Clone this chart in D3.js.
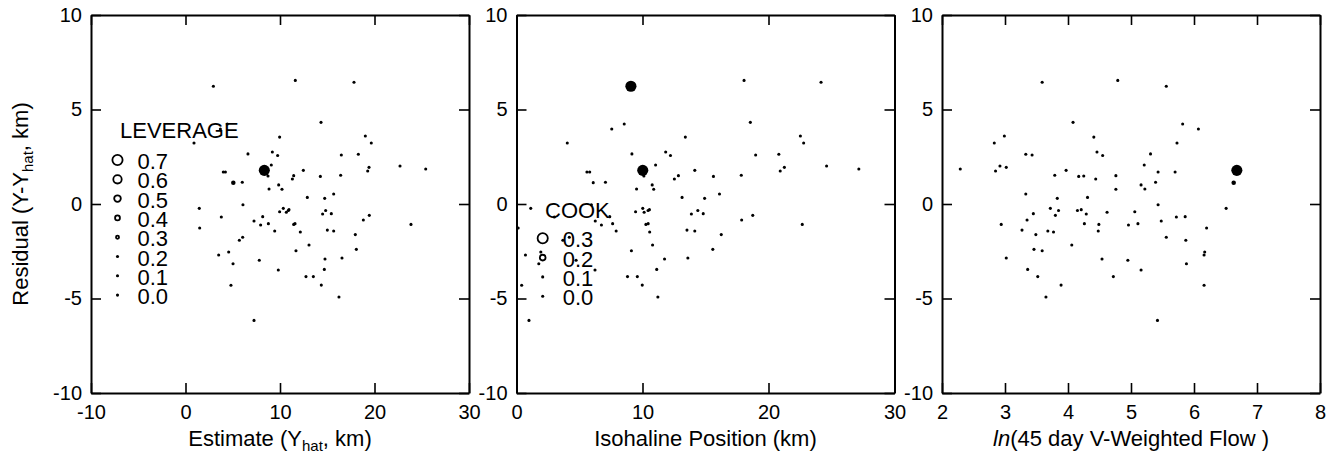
<!DOCTYPE html>
<html>
<head>
<meta charset="utf-8">
<script src="https://cdn.jsdelivr.net/npm/d3@7"></script>
<style>
  body { margin: 0; background: #fff; }
  svg { display: block; font-family: 'Liberation Sans', Arial, sans-serif; }
</style>
</head>
<body>
<div id="chart"></div>
<script>
const estimate = [2.95, 11.62, 17.83, 14.34, 4.42, 3.69, 9.96, 19.03, 0.90, 19.66,
  6.61, 9.19, 9.75, 16.49, 18.29, 9.08, 8.34, 4.00, 4.22, 12.47,
  19.42, 19.28, 22.70, 25.42, 8.73, 11.45, 11.31, 14.27, 16.42, 5.06,
  6.01, 9.86, 8.84, 10.21, 15.68, 12.89, 14.73, 6.08, 1.46, 10.35,
  10.95, 10.88, 14.83, 9.96, 10.67, 15.43, 14.51, 19.45, 8.17, 3.79,
  18.82, 7.25, 8.77, 11.59, 11.45, 23.86, 7.95, 1.50, 15.01, 9.44,
  15.68, 12.15, 17.97, 6.05, 5.70, 13.07, 18.08, 11.69, 4.57, 3.51,
  16.56, 14.76, 7.81, 5.03, 14.69, 9.82, 12.75, 13.53, 14.37, 4.81,
  16.24, 7.25]
const residual = [6.23, 6.54, 6.44, 4.32, 4.23, 3.97, 3.54, 3.60, 3.23, 3.23,
  2.65, 2.75, 2.57, 2.59, 2.63, 2.06, 1.78, 1.69, 1.69, 1.78,
  1.94, 1.75, 2.01, 1.85, 1.48, 1.50, 1.32, 1.46, 1.52, 1.13,
  1.15, 1.01, 0.79, 0.78, 0.53, 0.35, 0.30, -0.04, -0.23, -0.23,
  -0.30, -0.34, -0.34, -0.41, -0.44, -0.51, -0.53, -0.60, -0.67, -0.69,
  -0.85, -0.90, -1.04, -1.04, -1.08, -1.08, -1.11, -1.27, -1.38, -1.43,
  -1.43, -1.48, -1.62, -1.76, -1.92, -2.17, -2.40, -2.47, -2.54, -2.70,
  -2.86, -2.91, -2.98, -3.16, -3.46, -3.49, -3.84, -3.84, -4.29, -4.30,
  -4.92, -6.16]
const isohaline = [9.08, 18.06, 24.17, 18.56, 8.55, 7.56, 13.40, 22.53, 4.03, 22.79,
  9.16, 11.84, 12.22, 18.98, 20.82, 11.04, 10.02, 5.59, 5.81, 14.15,
  21.26, 20.93, 24.61, 27.17, 10.11, 12.85, 12.53, 15.63, 17.84, 6.09,
  7.06, 10.77, 9.53, 10.89, 16.11, 13.14, 14.93, 5.94, 1.13, 10.02,
  10.55, 10.44, 14.39, 9.45, 10.13, 14.82, 13.88, 18.75, 7.40, 3.00,
  17.87, 6.25, 7.63, 10.45, 10.27, 22.68, 6.74, 0.13, 13.53, 7.91,
  14.15, 10.57, 16.25, 4.19, 3.68, 10.80, 15.58, 9.12, 1.93, 0.71,
  13.60, 11.75, 4.73, 1.77, 11.13, 6.23, 8.81, 9.59, 9.98, 0.41,
  11.22, 0.99]
const lnFlow = [5.56, 4.79, 3.59, 4.08, 5.82, 6.07, 4.41, 2.99, 2.83, 5.73,
  5.31, 4.46, 4.55, 3.43, 3.33, 5.21, 6.68, 5.43, 5.70, 3.97,
  3.02, 2.85, 2.92, 2.29, 4.25, 4.76, 4.44, 4.17, 3.79, 6.63,
  5.39, 5.16, 5.22, 4.76, 3.33, 4.31, 3.83, 5.43, 6.51, 3.72,
  4.21, 3.85, 4.15, 5.06, 4.62, 3.45, 4.29, 3.80, 5.86, 5.72,
  3.35, 5.48, 4.26, 5.11, 2.94, 4.49, 4.96, 6.20, 3.27, 3.68,
  4.48, 3.77, 3.49, 5.56, 5.87, 4.06, 3.46, 3.59, 6.17, 6.16,
  3.02, 4.54, 4.95, 5.88, 3.36, 5.16, 3.52, 4.72, 3.89, 6.16,
  3.65, 5.42]
const leverage = [0.05, 0.05, 0.05, 0.05, 0.05, 0.05, 0.05, 0.05, 0.05, 0.05,
  0.05, 0.05, 0.05, 0.05, 0.05, 0.05, 0.65, 0.05, 0.05, 0.05,
  0.05, 0.05, 0.05, 0.05, 0.05, 0.05, 0.05, 0.05, 0.05, 0.28,
  0.05, 0.05, 0.05, 0.05, 0.05, 0.05, 0.05, 0.05, 0.05, 0.05,
  0.05, 0.05, 0.05, 0.05, 0.05, 0.05, 0.05, 0.05, 0.05, 0.05,
  0.05, 0.05, 0.05, 0.05, 0.05, 0.05, 0.05, 0.05, 0.05, 0.05,
  0.05, 0.05, 0.05, 0.05, 0.05, 0.05, 0.05, 0.05, 0.05, 0.05,
  0.05, 0.05, 0.05, 0.05, 0.05, 0.05, 0.05, 0.05, 0.05, 0.05,
  0.05, 0.05]
const cook = [0.28, 0.02, 0.02, 0.02, 0.02, 0.02, 0.02, 0.02, 0.02, 0.02,
  0.02, 0.02, 0.02, 0.02, 0.02, 0.02, 0.28, 0.02, 0.02, 0.02,
  0.02, 0.02, 0.02, 0.02, 0.02, 0.02, 0.02, 0.02, 0.02, 0.02,
  0.02, 0.02, 0.02, 0.02, 0.02, 0.02, 0.02, 0.02, 0.02, 0.02,
  0.02, 0.02, 0.02, 0.02, 0.02, 0.02, 0.02, 0.02, 0.02, 0.02,
  0.02, 0.02, 0.02, 0.02, 0.02, 0.02, 0.02, 0.02, 0.02, 0.02,
  0.02, 0.02, 0.02, 0.02, 0.02, 0.02, 0.02, 0.02, 0.02, 0.02,
  0.02, 0.02, 0.02, 0.02, 0.02, 0.02, 0.02, 0.02, 0.02, 0.02,
  0.02, 0.02]

const residualTicks = [-10, -5, 0, 5, 10]
const estimateTicks = [-10, 0, 10, 20, 30]
const isohalineTicks = [0, 10, 20, 30]
const flowTicks = [2, 3, 4, 5, 6, 7, 8]
const leverageLegend = [0.7, 0.6, 0.5, 0.4, 0.3, 0.2, 0.1, 0.0]
const cookLegend = [0.3, 0.2, 0.1, 0.0]

let w = 1343, h = 461
let plotTop = 15, size = 378, tick = 10
let fmt = d => String(d)

let svg = d3.select('#chart').append('svg')
  .attr('width', w).attr('height', h)
svg.append('rect').attr('width', w).attr('height', h).attr('fill', '#fff')

let y = d3.scaleLinear().domain([-10, 10]).range([plotTop + size, plotTop])
let levR = d3.scaleLinear().domain([0.2, 0.7]).range([1.55, 6]).clamp(true)
let cookR = d3.scaleLinear().domain([0.1, 0.3]).range([1.55, 6]).clamp(true)

function styleAxis (sel) {
  sel.attr('font-family', null).attr('font-size', null)
  sel.select('.domain').attr('stroke-width', 2)
  sel.selectAll('.tick line').attr('stroke-width', 1.6)
  sel.selectAll('.tick text').style('font-size', '20px').attr('fill', '#000')
}

function drawPanel (left, xDomain, xTicks, xs, sizes, rScale) {
  let x = d3.scaleLinear().domain(xDomain).range([left, left + size])
  let g = svg.append('g')

  g.append('g').attr('transform', `translate(0,${plotTop + size})`)
    .call(d3.axisBottom(x).tickValues(xTicks).tickSizeInner(-tick).tickSizeOuter(0).tickPadding(12).tickFormat(fmt))
    .call(styleAxis)
  g.append('g').attr('transform', `translate(0,${plotTop})`)
    .call(d3.axisTop(x).tickValues(xTicks).tickSizeInner(-tick).tickSizeOuter(0).tickFormat(''))
    .call(styleAxis)
  g.append('g').attr('transform', `translate(${left},0)`)
    .call(d3.axisLeft(y).tickValues(residualTicks).tickSizeInner(-tick).tickSizeOuter(0).tickPadding(9).tickFormat(fmt))
    .call(styleAxis)
  g.append('g').attr('transform', `translate(${left + size},0)`)
    .call(d3.axisRight(y).tickValues(residualTicks).tickSizeInner(-tick).tickSizeOuter(0).tickFormat(''))
    .call(styleAxis)

  g.append('g').selectAll('circle')
    .data(xs).enter().append('circle')
    .attr('cx', d => x(d))
    .attr('cy', (d, i) => y(residual[i]))
    .attr('r', (d, i) => rScale(sizes[i]))
    .attr('fill', '#000')

  return g
}

function drawLegend (g, cx, rowY, header, headerX, headerY, values, rScale) {
  g.append('text').text(header)
    .attr('x', headerX).attr('y', headerY)
    .style('font-size', '22px')
  let step = 19.3
  values.forEach((v, i) => {
    let cy = rowY + i * step
    let r = rScale(v)
    g.append('circle')
      .attr('cx', cx).attr('cy', cy)
      .attr('r', r > 2 ? r - 0.9 : r)
      .attr('fill', r > 2 ? 'none' : '#000')
      .attr('stroke', '#000').attr('stroke-width', r > 2 ? 1.8 : 0)
    g.append('text').text(d3.format('.1f')(v))
      .attr('x', cx + 20).attr('y', cy + 9)
      .style('font-size', '22px')
  })
}

function xTitle (left, parts) {
  let t = svg.append('text')
    .attr('x', left + size / 2).attr('y', 446)
    .attr('text-anchor', 'middle')
    .style('font-size', '22px')
  parts.forEach(p => {
    let s = t.append('tspan').text(p.text)
    if (p.sub) s.style('font-size', '15px').attr('dy', 5)
    if (p.after) s.attr('dy', -5)
    if (p.italic) s.style('font-style', 'italic')
  })
}

let p1 = drawPanel(91, [-10, 30], estimateTicks, estimate, leverage, levR)
drawLegend(p1, 117.5, 160, 'LEVERAGE', 120, 138, leverageLegend, levR)
xTitle(91, [{ text: 'Estimate (Y' }, { text: 'hat', sub: true }, { text: ', km)', after: true }])

let p2 = drawPanel(516.5, [0, 30], isohalineTicks, isohaline, cook, cookR)
drawLegend(p2, 542.7, 238.3, 'COOK', 545, 217.5, cookLegend, cookR)
xTitle(516.5, [{ text: 'Isohaline Position (km)' }])

drawPanel(942, [2, 8], flowTicks, lnFlow, leverage, levR)
xTitle(942, [{ text: 'ln', italic: true }, { text: '(45 day V-Weighted Flow )' }])

// y title
let yt = svg.append('text')
  .attr('transform', `translate(28,${plotTop + size / 2}) rotate(-90)`)
  .attr('text-anchor', 'middle')
  .style('font-size', '22px')
yt.append('tspan').text('Residual (Y-Y')
yt.append('tspan').text('hat').style('font-size', '15px').attr('dy', 5)
yt.append('tspan').text(', km)').attr('dy', -5)
</script>
</body>
</html>
